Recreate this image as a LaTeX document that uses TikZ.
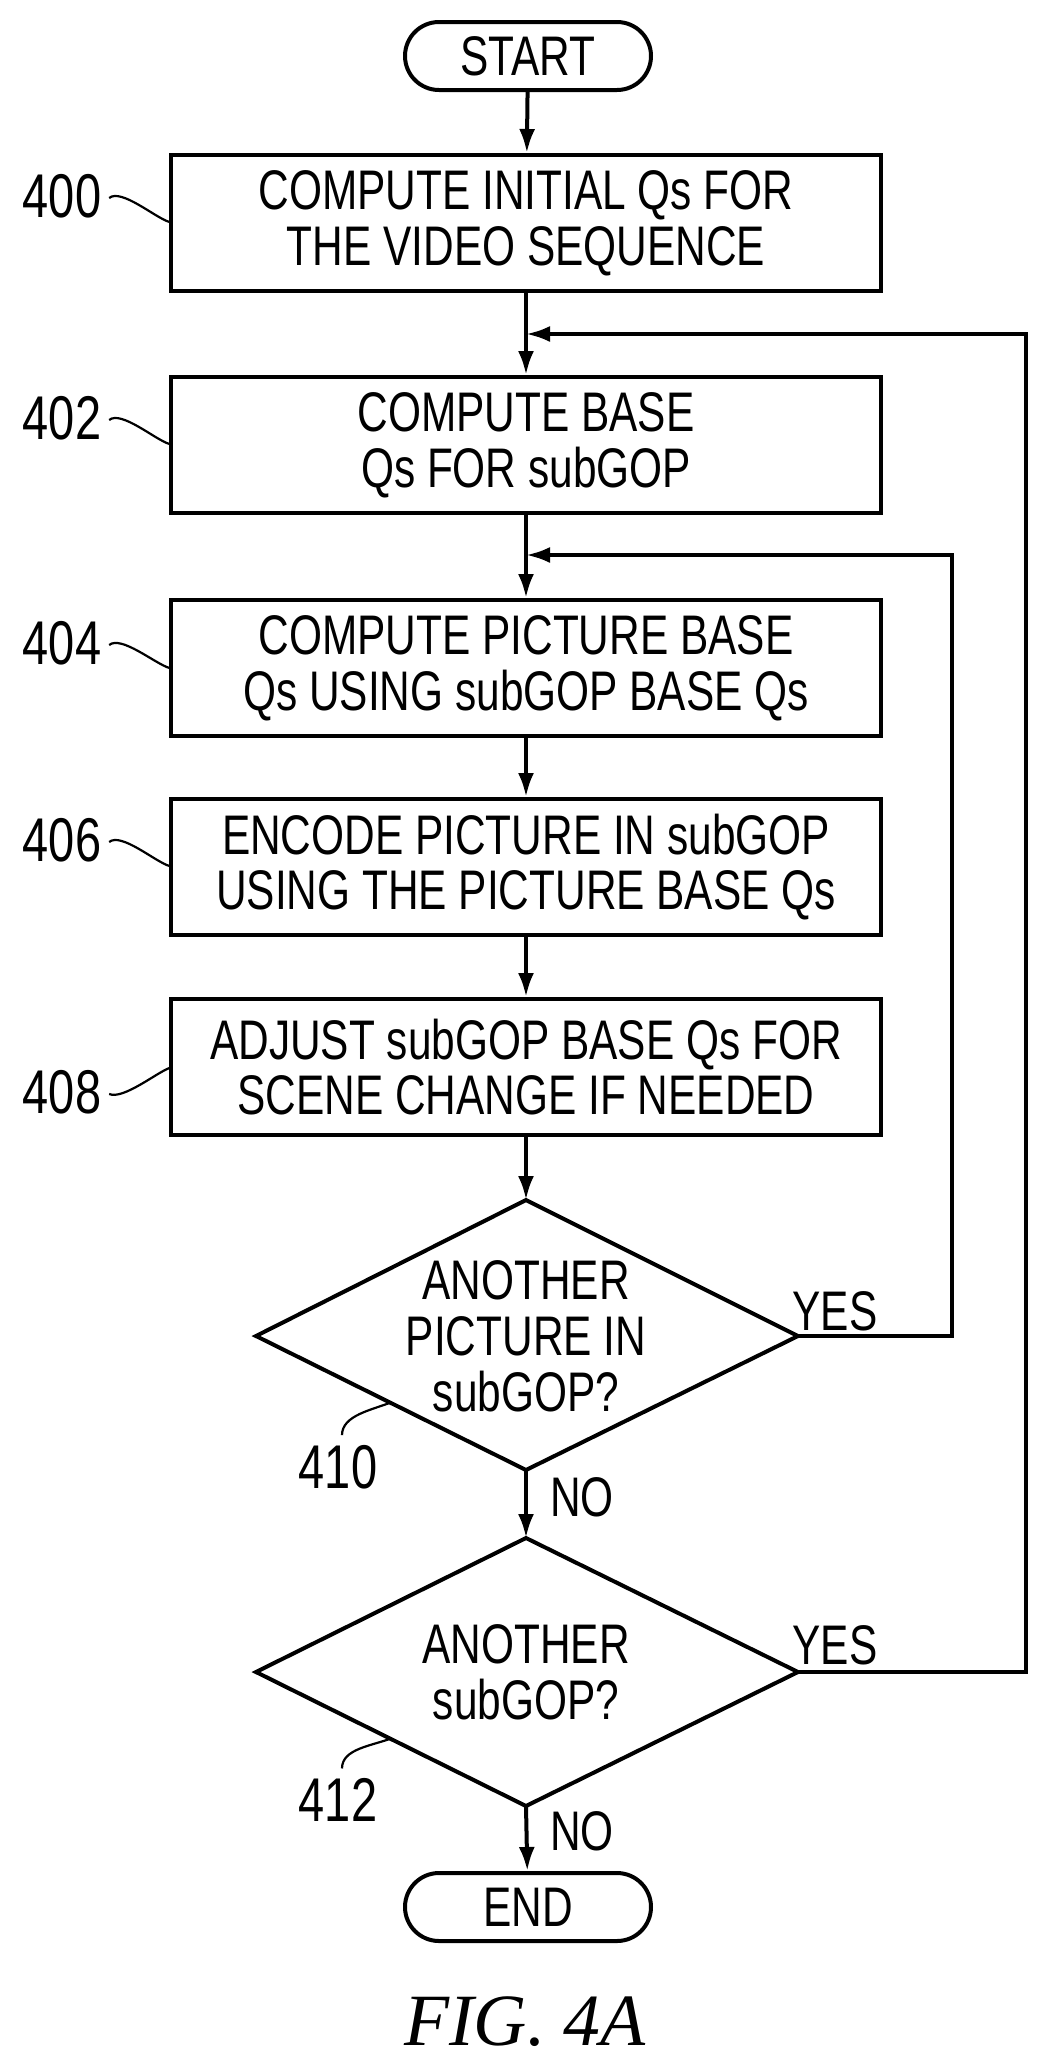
\documentclass[tikz,border=0pt]{standalone}
\usepackage{fontspec}
\setmainfont{Liberation Sans}[FakeStretch=0.76]
\newfontfamily\figfont{Liberation Serif}
\usetikzlibrary{shapes.misc,arrows.meta}
\begin{document}
\begin{tikzpicture}[x=1bp,y=-1bp,
  line width=4bp,
  every node/.style={font=\fontsize{56}{56}\selectfont},
  box/.style={draw,minimum width=709bp,minimum height=136bp,inner sep=0,align=center},
  pill/.style={draw,rounded rectangle,minimum width=246bp,minimum height=68bp,inner sep=0},
  arr/.style={-{Latex[length=24bp,width=16bp]}},
  lbl/.style={inner sep=0},
  num/.style={inner sep=0,font=\fontsize{62}{62}\selectfont},
  sq/.style={line width=2.2bp}]
\useasboundingbox (0,0) rectangle (1044,2066);
\node[pill] (start) at (528,56) {START};
\node[box] (b400) at (526,223) {COMPUTE INITIAL Qs FOR\\THE VIDEO SEQUENCE};
\node[box] (b402) at (526,445) {COMPUTE BASE\\Qs FOR subGOP};
\node[box] (b404) at (526,668) {COMPUTE PICTURE BASE\\Qs USING subGOP BASE Qs};
\node[box] (b406) at (526,867) {ENCODE PICTURE IN subGOP\\USING THE PICTURE BASE Qs};
\node[box] (b408) at (526,1067) {ADJUST subGOP BASE Qs FOR\\SCENE CHANGE IF NEEDED};
% diamonds
\coordinate (d1t) at (526,1200); \coordinate (d1r) at (798,1336);
\coordinate (d1b) at (526,1470); \coordinate (d1l) at (256,1336);
\draw (d1t) -- (d1r) -- (d1b) -- (d1l) -- cycle;
\node[align=center] (d1) at (526,1336) {ANOTHER\\PICTURE IN\\subGOP?};
\coordinate (d2t) at (526,1538); \coordinate (d2r) at (798,1672);
\coordinate (d2b) at (526,1806); \coordinate (d2l) at (256,1672);
\draw (d2t) -- (d2r) -- (d2b) -- (d2l) -- cycle;
\node[align=center] (d2) at (526,1672) {ANOTHER\\subGOP?};
\node[pill] (end) at (528,1907) {END};
% main arrows
\draw[arr] (start) -- (b400);
\draw[arr] (b400) -- (b402);
\draw[arr] (b402) -- (b404);
\draw[arr] (b404) -- (b406);
\draw[arr] (b406) -- (b408);
\draw[arr] (b408) -- (d1t);
\draw[arr] (d1b) -- (d2t);
\draw[arr] (d2b) -- (end);
% loops
\coordinate (j1) at (526,334); \coordinate (j2) at (526,555);
\draw[arr] (d1r) -- (952,1336) -- (952,555) -- (j2);
\draw[arr] (d2r) -- (1026,1672) -- (1026,334) -- (j1);
\node[lbl] (y1) at (835,1311) {YES};
\node[lbl] (y2) at (835,1645) {YES};
\node[lbl] (n1) at (582,1497) {NO};
\node[lbl] (n2) at (582,1831) {NO};
% reference labels
\node[num] (l400) at (62,196) {400};
\node[num] (l402) at (62,418) {402};
\node[num] (l404) at (62,643) {404};
\node[num] (l406) at (62,840) {406};
\node[num] (l408) at (62,1092) {408};
\node[num] (l410) at (338,1467) {410};
\node[num] (l412) at (338,1800) {412};
\draw[sq] (l400.east) ++(6,2) .. controls +(12,-10) and +(-14,-4) .. (b400.west |- 0,222);
\draw[sq] (l402.east) ++(6,2) .. controls +(12,-10) and +(-14,-4) .. (b402.west |- 0,444);
\draw[sq] (l404.east) ++(6,2) .. controls +(12,-10) and +(-14,-4) .. (b404.west |- 0,668);
\draw[sq] (l406.east) ++(6,2) .. controls +(12,-10) and +(-14,-4) .. (b406.west |- 0,866);
\draw[sq] (l408.east) ++(6,2) .. controls +(14,6) and +(-12,4) .. (b408.west |- 0,1068);
\draw[sq] (l410.north) ++(4,-8) .. controls +(0,-20) and +(-20,8) .. (392,1402);
\draw[sq] (l412.north) ++(4,-8) .. controls +(0,-20) and +(-20,8) .. (392,1738);
\node[lbl,font=\figfont\itshape\fontsize{74}{74}\selectfont] (fig) at (525,2022) {FIG.~4A};
\end{tikzpicture}
\end{document}
